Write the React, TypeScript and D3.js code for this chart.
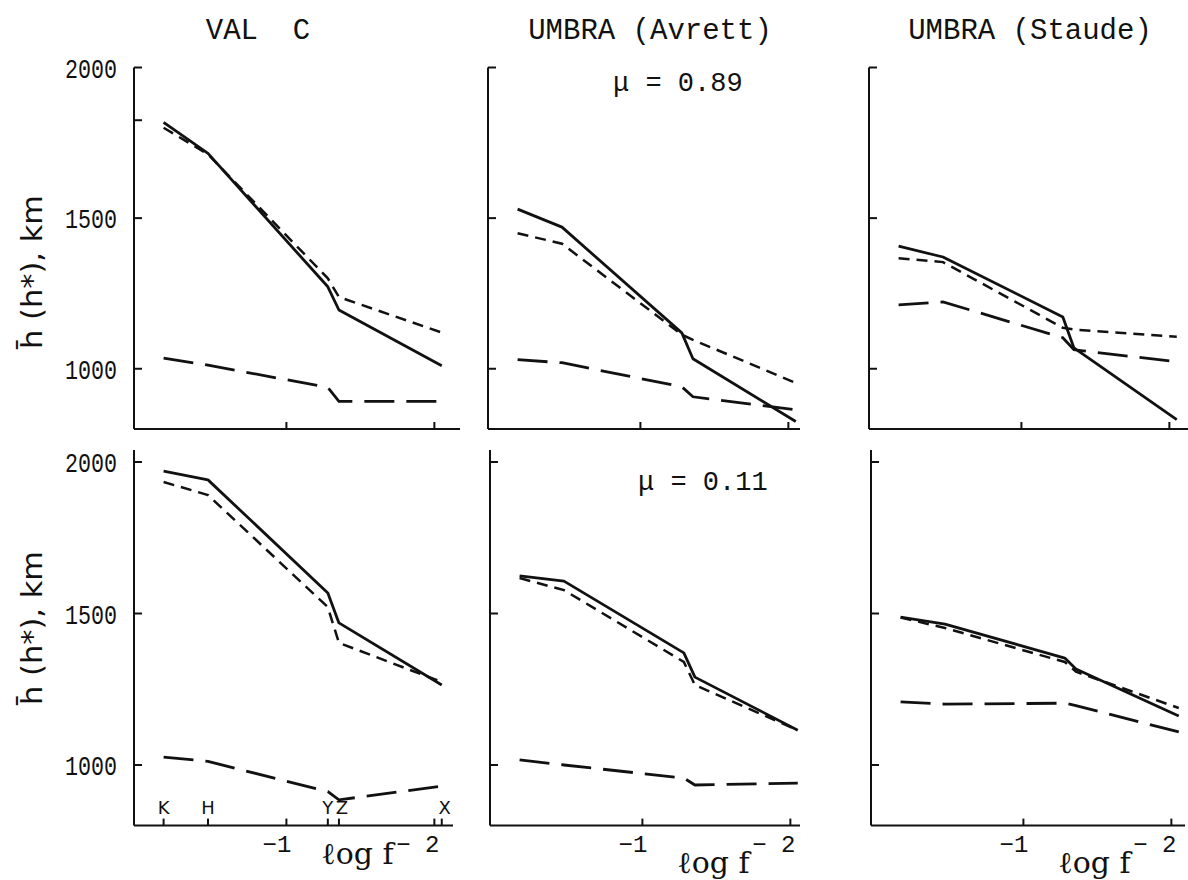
import React from "react";
import * as d3 from "d3";

// log f positions of the spectral features (K, H, Y, Z, X)
const featureNames = ["K", "H", "Y", "Z", "X"];
const logF = [-0.17, -0.47, -1.28, -1.355, -2.05];

// mean heights (km) for each panel: solid, short-dashed, long-dashed
const valcTopSolid = [1818, 1715, 1272, 1195, 1010];
const valcTopShort = [1800, 1712, 1300, 1238, 1120];
const valcTopLong = [1035, 1012, 938, 892, 892];

const avrettTopSolid = [1530, 1470, 1119, 1033, 825];
const avrettTopShort = [1450, 1415, 1113, 1096, 953];
const avrettTopLong = [1030, 1020, 940, 907, 864];

const staudeTopSolid = [1407, 1371, 1172, 1069, 831];
const staudeTopShort = [1367, 1354, 1136, 1130, 1106];
const staudeTopLong = [1212, 1222, 1103, 1063, 1023];

const valcBotSolid = [1970, 1941, 1568, 1469, 1264];
const valcBotShort = [1934, 1891, 1521, 1403, 1274];
const valcBotLong = [1026, 1012, 912, 885, 930];

const avrettBotSolid = [1624, 1607, 1370, 1290, 1115];
const avrettBotShort = [1617, 1577, 1340, 1264, 1115];
const avrettBotLong = [1017, 1000, 957, 934, 940];

const staudeBotSolid = [1488, 1465, 1353, 1317, 1162];
const staudeBotShort = [1487, 1452, 1340, 1308, 1188];
const staudeBotLong = [1208, 1201, 1204, 1196, 1109];

const titles = ["VAL  C", "UMBRA (Avrett)", "UMBRA (Staude)"];
const muLabels = ["\u03bc = 0.89", "\u03bc = 0.11"];
const yTickValues = [1000, 1500, 2000];
const extraTopLeftTicks = [1825];
const xTickValues = [-1, -2];
const xTickLabels = ["\u22121", "\u2212 2"];
const yAxisTitle = "h\u0304 (h*), km";
const xAxisTitle = "\u2113og f";

const xDomain = [0.03, -2.18];
const yDomain = [800, 2000];

type Panel = {
  left: number;
  row: number;
  axisRight: number;
  solid: number[];
  short: number[];
  long: number[];
  col: number;
};

const panels: Panel[] = [
  { left: 134, row: 0, col: 0, axisRight: 460, solid: valcTopSolid, short: valcTopShort, long: valcTopLong },
  { left: 488, row: 0, col: 1, axisRight: 800, solid: avrettTopSolid, short: avrettTopShort, long: avrettTopLong },
  { left: 869, row: 0, col: 2, axisRight: 1188, solid: staudeTopSolid, short: staudeTopShort, long: staudeTopLong },
  { left: 134, row: 1, col: 0, axisRight: 453, solid: valcBotSolid, short: valcBotShort, long: valcBotLong },
  { left: 490, row: 1, col: 1, axisRight: 800, solid: avrettBotSolid, short: avrettBotShort, long: avrettBotLong },
  { left: 871, row: 1, col: 2, axisRight: 1185, solid: staudeBotSolid, short: staudeBotShort, long: staudeBotLong },
];

const rows = [
  { yBottom: 429, yTop: 67.5, axisTop: 2000 },
  { yBottom: 825.6, yTop: 462, axisTop: 2040 },
];

const INK = "#111";
const mono = "'Liberation Mono', 'DejaVu Sans Mono', monospace";

function PanelView({ p }: { p: Panel }) {
  const row = rows[p.row];
  const x = d3.scaleLinear().domain(xDomain).range([p.left, p.left + 327]);
  const y = d3.scaleLinear().domain(yDomain).range([row.yBottom, row.yTop]);
  const line = d3
    .line<number>()
    .x((_, i) => x(logF[i]))
    .y((d) => y(d));
  const axisY = y(yDomain[0]);
  const showYLabels = p.col === 0;
  const bottom = p.row === 1;
  const yTicks = p.row === 0 && p.col === 0 ? [...yTickValues, ...extraTopLeftTicks] : yTickValues;
  return (
    <g>
      {/* axes */}
      <line x1={p.left} x2={p.left} y1={y(row.axisTop)} y2={axisY} stroke={INK} strokeWidth={2} />
      <line x1={p.left} x2={p.axisRight} y1={axisY} y2={axisY} stroke={INK} strokeWidth={2} />
      {yTicks.map((t) => (
        <line key={"yt" + t} x1={p.left} x2={p.left + 8} y1={y(t)} y2={y(t)} stroke={INK} strokeWidth={2} />
      ))}
      {showYLabels &&
        yTickValues.map((t) => (
          <text
            key={"yl" + t}
            x={117}
            y={y(t) + 10}
            textAnchor="end"
            fontFamily={mono}
            fontSize={27}
            textLength={52}
            lengthAdjust="spacingAndGlyphs"
            fill={INK}
          >
            {t}
          </text>
        ))}
      {xTickValues.map((t) => (
        <line key={"xt" + t} x1={x(t)} x2={x(t)} y1={axisY} y2={axisY - 7} stroke={INK} strokeWidth={2} />
      ))}
      {bottom &&
        xTickValues.map((t, i) => (
          <text key={"xl" + t} x={x(t) + 5} y={axisY + 26} textAnchor="end" fontFamily={mono} fontSize={24} fill={INK}>
            {xTickLabels[i]}
          </text>
        ))}
      {bottom && p.col === 0 &&
        logF.map((v, i) => (
          <g key={"f" + i}>
            <line x1={x(v)} x2={x(v)} y1={axisY} y2={axisY - 7} stroke={INK} strokeWidth={2} />
            <text
              x={x(v) + (i === 4 ? 3 : i === 3 ? 3 : 0)}
              y={axisY - 12}
              textAnchor="middle"
              fontFamily="'DejaVu Sans', sans-serif"
              fontSize={18}
              fill={INK}
            >
              {featureNames[i]}
            </text>
          </g>
        ))}
      {bottom && (
        <text
          x={x(-1.48)}
          y={axisY + (p.col === 0 ? 38 : 47)}
          textAnchor="middle"
          fontFamily="'DejaVu Serif', serif"
          fontSize={30}
          fill={INK}
        >
          {xAxisTitle}
        </text>
      )}
      {/* curves */}
      <path d={line(p.solid) || ""} fill="none" stroke={INK} strokeWidth={2.8} strokeLinejoin="round" />
      <path d={line(p.short) || ""} fill="none" stroke={INK} strokeWidth={2.5} strokeDasharray="11 7" />
      <path d={line(p.long) || ""} fill="none" stroke={INK} strokeWidth={2.8} strokeDasharray="30 12" />
    </g>
  );
}

export default function App() {
  return (
    <svg
      width={1188}
      height={880}
      viewBox="0 0 1188 880"
      style={{ position: "absolute", left: 0, top: 0, background: "#fff" }}
    >
      <rect x={0} y={0} width={1188} height={880} fill="#fff" />
      {titles.map((t, i) => (
        <text
          key={t}
          x={[258, 650, 1030][i]}
          y={39}
          textAnchor="middle"
          fontFamily={mono}
          fontSize={29}
          fill={INK}
          style={{ whiteSpace: "pre" }}
        >
          {t}
        </text>
      ))}
      <text x={613} y={91} fontFamily={mono} fontSize={27} fill={INK}>
        {muLabels[0]}
      </text>
      <text x={638} y={490} fontFamily={mono} fontSize={27} fill={INK}>
        {muLabels[1]}
      </text>
      {[272, 628].map((cy, i) => (
        <text
          key={"yat" + i}
          transform={`translate(42,${cy}) rotate(-90)`}
          textAnchor="middle"
          fontFamily="'DejaVu Sans', sans-serif"
          fontSize={29}
          textLength={154}
          lengthAdjust="spacingAndGlyphs"
          fill={INK}
        >
          {yAxisTitle}
        </text>
      ))}
      {panels.map((p, i) => (
        <PanelView key={i} p={p} />
      ))}
    </svg>
  );
}
